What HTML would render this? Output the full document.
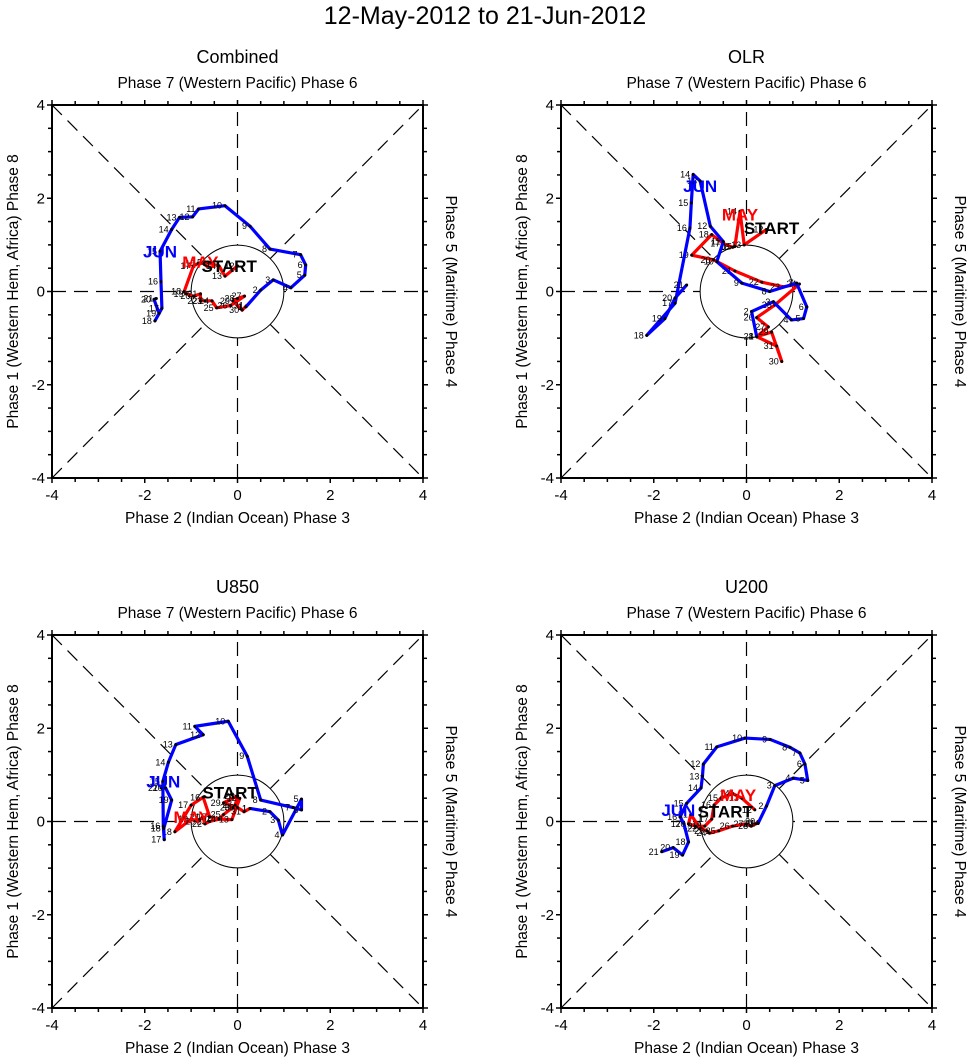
<!DOCTYPE html>
<html><head><meta charset="utf-8"><style>
html,body{margin:0;padding:0;background:#fff;}
svg{display:block;font-family:"Liberation Sans",sans-serif;}
</style></head><body>
<svg id="chart" width="971" height="1059" viewBox="0 0 971 1059">
<text x="485" y="24" text-anchor="middle" font-size="25">12-May-2012 to 21-Jun-2012</text>
</svg>
<script>
const panelTitles = ["Combined","OLR","U850","U200"];
const panelOrigins = [[52,105],[561,105],[52,635],[561,635]];
// May 12..31 (red)
const combinedMay = [[0.0,0.55],[-0.27,0.33],[-0.4,0.55],[-0.7,0.62],[-0.85,0.6],[-0.95,0.55],[-1.15,0.0],[-1.1,-0.05],[-0.95,-0.1],[-0.8,-0.05],[-0.8,-0.2],[-0.7,-0.2],[-0.55,-0.2],[-0.45,-0.35],[-0.15,-0.3],[0.15,-0.1],[0.0,-0.15],[-0.1,-0.2],[0.1,-0.4],[0.2,-0.3]];
const combinedJun = [[0.18,-0.33],[0.5,0.03],[0.77,0.25],[1.15,0.08],[1.45,0.35],[1.47,0.57],[1.36,0.79],[0.7,0.91],[0.27,1.4],[-0.27,1.84],[-0.84,1.77],[-0.97,1.6],[-1.25,1.59],[-1.42,1.33],[-1.67,0.86],[-1.65,0.21],[-1.63,-0.36],[-1.78,-0.63],[-1.69,-0.47],[-1.8,-0.17],[-1.75,-0.15]];
const olrMay = [[0.43,1.33],[-0.05,1.0],[-0.14,1.72],[-0.25,0.97],[-0.3,0.95],[-0.5,1.03],[-0.75,1.22],[-1.18,0.78],[-0.71,0.68],[-0.25,0.44],[0.33,0.2],[0.79,0.1],[1.14,0.16],[0.61,-0.29],[0.22,-0.56],[0.47,-0.76],[0.22,-0.97],[0.54,-0.87],[0.76,-1.5],[0.65,-1.17]];
const olrJun = [[0.22,-0.97],[0.11,-0.43],[0.58,-0.22],[0.97,-0.61],[1.23,-0.58],[1.3,-0.33],[1.08,0.18],[0.5,0.0],[-0.1,0.18],[-0.64,0.64],[-0.5,1.07],[-0.78,1.4],[-1.0,2.37],[-1.15,2.51],[-1.19,1.9],[-1.22,1.36],[-1.54,-0.25],[-2.15,-0.94],[-1.76,-0.58],[-1.54,-0.14],[-1.29,0.14]];
const u850May = [[0.05,0.5],[-0.12,0.04],[-0.4,0.05],[-0.6,0.1],[-0.74,0.52],[-1.0,0.35],[-1.35,-0.22],[-1.0,0.05],[-0.85,0.0],[-0.75,0.1],[-0.7,-0.05],[-0.6,0.0],[-0.4,0.05],[-0.3,0.15],[-0.1,0.3],[-0.05,0.35],[0.0,0.55],[-0.3,0.4],[0.0,0.3],[0.14,0.21]];
const u850Jun = [[0.27,0.28],[0.7,0.21],[0.88,0.03],[0.97,-0.29],[1.38,0.48],[1.38,0.25],[1.2,0.3],[0.5,0.46],[0.21,1.4],[-0.2,2.15],[-0.92,2.04],[-0.74,1.86],[-1.33,1.65],[-1.49,1.27],[-1.61,0.86],[-1.6,-0.1],[-1.58,-0.39],[-1.59,-0.15],[-1.42,0.46],[-1.55,0.72],[-1.65,0.72]];
const u200May = [[0.18,0.25],[-0.1,0.5],[-0.3,0.6],[-0.55,0.5],[-0.7,0.35],[-0.75,0.05],[-0.9,-0.1],[-1.1,-0.1],[-1.25,-0.05],[-1.2,0.15],[-1.0,-0.15],[-0.85,-0.2],[-0.8,-0.25],[-0.6,-0.2],[-0.3,-0.1],[0.0,-0.05],[0.1,-0.1],[0.2,-0.05],[0.25,0.0],[0.25,-0.04]];
const u200Jun = [[0.25,-0.04],[0.43,0.33],[0.61,0.77],[1.01,0.93],[1.32,0.88],[1.26,1.23],[1.15,1.47],[0.94,1.59],[0.51,1.76],[-0.03,1.79],[-0.64,1.6],[-0.93,1.23],[-0.95,0.97],[-0.98,0.72],[-1.29,0.39],[-1.43,0.1],[-1.35,-0.05],[-1.25,-0.44],[-1.38,-0.72],[-1.58,-0.56],[-1.83,-0.65]];
const mayDays = [12,13,14,15,16,17,18,19,20,21,22,23,24,25,26,27,28,29,30,31];
const tickValues = [-4,-2,0,2,4];
const startPos = [[-0.18,0.55],[0.54,1.36],[-0.16,0.62],[-0.46,0.21]];
const mayPos = [[-0.8,0.63],[-0.14,1.65],[-0.99,0.1],[-0.18,0.57]];
const junPos = [[-1.67,0.86],[-1.0,2.26],[-1.6,0.86],[-1.47,0.25]];
const maySeries = [combinedMay, olrMay, u850May, u200May];
const junSeries = [combinedJun, olrJun, u850Jun, u200Jun];

const NS = "http://www.w3.org/2000/svg";
const svg = document.getElementById('chart');
const W = 371, H = 373;
function mk(tag, attrs, parent, txt){const e=document.createElementNS(NS,tag);for(const k in attrs)e.setAttribute(k,attrs[k]);if(txt!==undefined)e.textContent=txt;(parent||svg).appendChild(e);return e;}

panelOrigins.forEach((o,pi)=>{
  const x0=o[0], y0=o[1];
  const sx = v => x0 + (v+4)/8*W;
  const sy = v => y0 + (4-v)/8*H;
  const g = mk('g',{});
  
  
  const t = mk('text',{x:x0+W/2,y:y0-42,'text-anchor':'middle','font-size':18},g,panelTitles[pi]);
  
  
  const tt = mk('text',{x:x0+W/2,y:y0-17,'text-anchor':'middle','font-size':15.5},g,'Phase 7 (Western Pacific) Phase 6');
  
  
  const bt = mk('text',{x:x0+W/2,y:y0+H+45,'text-anchor':'middle','font-size':15.5},g,'Phase 2 (Indian Ocean) Phase 3');
  
  
  const lt = mk('text',{x:0,y:0,'text-anchor':'middle','font-size':15.5,transform:`translate(${x0-34},${y0+H/2}) rotate(-90)`},g,'Phase 1 (Western Hem, Africa) Phase 8');
  
  
  const rt = mk('text',{x:0,y:0,'text-anchor':'middle','font-size':15.5,transform:`translate(${x0+W+23},${y0+H/2}) rotate(90)`},g,'Phase 5 (Maritime) Phase 4');
  
  
  const dash = {stroke:'#000','stroke-width':1.2,'stroke-dasharray':'14,8',fill:'none'};
  [[-4,-4,4,4],[-4,4,4,-4],[-4,0,4,0],[0,-4,0,4]].forEach(l=>{
    const d=mk('line',Object.assign({x1:sx(l[0]),y1:sy(l[1]),x2:sx(l[2]),y2:sy(l[3])},dash),g);
    
    
  });
  const c = mk('circle',{cx:sx(0),cy:sy(0),r:W/8,fill:'#fff',stroke:'#000','stroke-width':1},g);
  
  
  const box = mk('rect',{x:x0,y:y0,width:W,height:H,fill:'none',stroke:'#000','stroke-width':2},g);
  
  
  for(let v=-4; v<=4.001; v+=0.5){
    const major = Math.abs(v%2)<0.01, L = major?5:4;
    mk('line',{x1:sx(v),y1:y0+H,x2:sx(v),y2:y0+H+L,stroke:'#000','stroke-width':1.5},g);
    mk('line',{x1:sx(v),y1:y0,x2:sx(v),y2:y0-L,stroke:'#000','stroke-width':1.5},g);
    mk('line',{x1:x0,y1:sy(v),x2:x0-L,y2:sy(v),stroke:'#000','stroke-width':1.5},g);
    mk('line',{x1:x0+W,y1:sy(v),x2:x0+W+L,y2:sy(v),stroke:'#000','stroke-width':1.5},g);
  }
  tickValues.forEach(v=>{
    const a=mk('text',{x:sx(v),y:y0+H+22,'text-anchor':'middle','font-size':15},g,String(v));
    
    
    const b=mk('text',{x:x0-7,y:sy(v)+5,'text-anchor':'end','font-size':15},g,String(v));
    
    
  });
  const drawSeries=(pts,col,name,labels)=>{
    const pl = mk('polyline',{points:pts.map(p=>sx(p[0])+','+sy(p[1])).join(' '),fill:'none',stroke:col,'stroke-width':3.2,'stroke-linejoin':'round'},g);
    
    
    pts.forEach((p,i)=>{
      const d=mk('circle',{cx:sx(p[0]),cy:sy(p[1]),r:1.5,fill:'#000'},g);
      
      
      const lb=mk('text',{x:sx(p[0])-3,y:sy(p[1])+3,'text-anchor':'end','font-size':9},g,String(labels[i]));
      
      
    });
  };
  const may = maySeries[pi], jun = junSeries[pi];
  drawSeries(may.concat([jun[0]]),'#f00','may-trajectory',mayDays.concat(['1']));
  drawSeries(jun,'#00f','june-trajectory',jun.map((_,i)=>i+1));
  const lab=(pos,txt,col,name)=>{
    const e=mk('text',{x:sx(pos[0]),y:sy(pos[1])+6,'text-anchor':'middle','font-size':17,'font-weight':'bold',fill:col},g,txt);
    
    
  };
  lab(mayPos[pi],'MAY','#f00','may-label');
  lab(junPos[pi],'JUN','#00f','jun-label');
  lab(startPos[pi],'START','#000','start-label');
});
</script>
</body></html>
